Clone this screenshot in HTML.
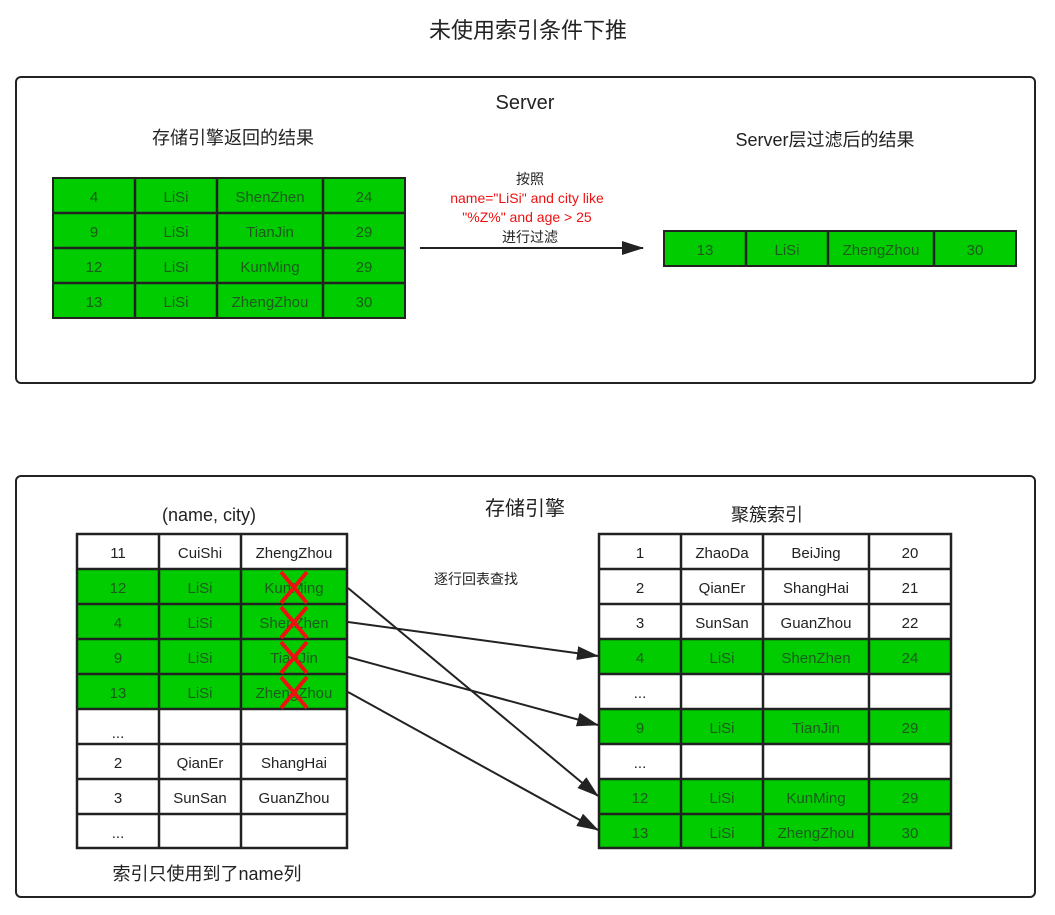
<!DOCTYPE html>
<html><head><meta charset="utf-8"><style>
html,body{margin:0;padding:0;background:#fff;}
svg{display:block;}
text{font-family:"Liberation Sans","Noto Sans CJK SC",sans-serif;}
</style></head><body>
<svg width="1055" height="915" viewBox="0 0 1055 915" xmlns="http://www.w3.org/2000/svg">
<defs>
<marker id="ah" markerWidth="12" markerHeight="10" refX="11" refY="5" orient="auto" markerUnits="userSpaceOnUse">
<path d="M0,0 L12,5 L0,10 Z" fill="#222"/>
</marker>
<marker id="ah2" markerWidth="22" markerHeight="14" refX="21" refY="7" orient="auto" markerUnits="userSpaceOnUse">
<path d="M0,0 L22,7 L0,14 Z" fill="#222"/>
</marker>
</defs>
<text x="528" y="38" font-size="22" text-anchor="middle" fill="#222">未使用索引条件下推</text>

<rect x="16" y="77" width="1019" height="306" rx="5" fill="none" stroke="#222" stroke-width="2"/>
<text x="525" y="109" font-size="20" text-anchor="middle" fill="#222">Server</text>
<text x="233" y="144" font-size="18" text-anchor="middle" fill="#222">存储引擎返回的结果</text>
<text x="825" y="146" font-size="18" text-anchor="middle" fill="#222">Server层过滤后的结果</text>

<g stroke="#222" stroke-width="2" fill="#00cc00">
<rect x="53" y="178" width="352" height="140"/>
<rect x="664" y="231" width="352" height="35"/>
</g>
<g stroke="#222" stroke-width="2.5">
<line x1="135" y1="178" x2="135" y2="318"/><line x1="217" y1="178" x2="217" y2="318"/><line x1="323" y1="178" x2="323" y2="318"/>
<line x1="53" y1="213" x2="405" y2="213"/><line x1="53" y1="248" x2="405" y2="248"/><line x1="53" y1="283" x2="405" y2="283"/>
<line x1="746" y1="231" x2="746" y2="266"/><line x1="828" y1="231" x2="828" y2="266"/><line x1="934" y1="231" x2="934" y2="266"/>
</g>
<g font-size="15" text-anchor="middle" fill="#1e5a1e">
<text x="94" y="202">4</text><text x="176" y="202">LiSi</text><text x="270" y="202">ShenZhen</text><text x="364" y="202">24</text>
<text x="94" y="237">9</text><text x="176" y="237">LiSi</text><text x="270" y="237">TianJin</text><text x="364" y="237">29</text>
<text x="94" y="272">12</text><text x="176" y="272">LiSi</text><text x="270" y="272">KunMing</text><text x="364" y="272">29</text>
<text x="94" y="307">13</text><text x="176" y="307">LiSi</text><text x="270" y="307">ZhengZhou</text><text x="364" y="307">30</text>
<text x="705" y="255">13</text><text x="787" y="255">LiSi</text><text x="881" y="255">ZhengZhou</text><text x="975" y="255">30</text>
</g>
<line x1="420" y1="248" x2="643" y2="248" stroke="#222" stroke-width="2" marker-end="url(#ah2)"/>
<g font-size="14" text-anchor="middle">
<text x="530" y="184" fill="#222">按照</text>
<text x="527" y="203" fill="#ee1111">name="LiSi" and city like</text>
<text x="527" y="222" fill="#ee1111">"%Z%" and age &gt; 25</text>
<text x="530" y="242" fill="#222">进行过滤</text>
</g>

<rect x="16" y="476" width="1019" height="421" rx="5" fill="none" stroke="#222" stroke-width="2"/>
<text x="525" y="515" font-size="20" text-anchor="middle" fill="#222">存储引擎</text>
<text x="209" y="521" font-size="18" text-anchor="middle" fill="#222">(name, city)</text>
<text x="767" y="521" font-size="18" text-anchor="middle" fill="#222">聚簇索引</text>
<text x="476" y="584" font-size="14" text-anchor="middle" fill="#222">逐行回表查找</text>
<text x="207" y="880" font-size="18" text-anchor="middle" fill="#222">索引只使用到了name列</text>

<!-- left table -->
<rect x="77" y="534" width="270" height="314" fill="#fff"/>
<rect x="77" y="569" width="270" height="140" fill="#00cc00"/>
<!-- right table -->
<rect x="599" y="534" width="352" height="314" fill="#fff"/>
<rect x="599" y="639" width="352" height="35" fill="#00cc00"/>
<rect x="599" y="709" width="352" height="35" fill="#00cc00"/>
<rect x="599" y="779" width="352" height="69" fill="#00cc00"/>
<g stroke="#222" stroke-width="2.5" fill="none">
<rect x="77" y="534" width="270" height="314"/>
<line x1="159" y1="534" x2="159" y2="848"/><line x1="241" y1="534" x2="241" y2="848"/>
<line x1="77" y1="569" x2="347" y2="569"/><line x1="77" y1="604" x2="347" y2="604"/><line x1="77" y1="639" x2="347" y2="639"/><line x1="77" y1="674" x2="347" y2="674"/><line x1="77" y1="709" x2="347" y2="709"/><line x1="77" y1="744" x2="347" y2="744"/><line x1="77" y1="779" x2="347" y2="779"/><line x1="77" y1="814" x2="347" y2="814"/>
<rect x="599" y="534" width="352" height="314"/>
<line x1="681" y1="534" x2="681" y2="848"/><line x1="763" y1="534" x2="763" y2="848"/><line x1="869" y1="534" x2="869" y2="848"/>
<line x1="599" y1="569" x2="951" y2="569"/><line x1="599" y1="604" x2="951" y2="604"/><line x1="599" y1="639" x2="951" y2="639"/><line x1="599" y1="674" x2="951" y2="674"/><line x1="599" y1="709" x2="951" y2="709"/><line x1="599" y1="744" x2="951" y2="744"/><line x1="599" y1="779" x2="951" y2="779"/><line x1="599" y1="814" x2="951" y2="814"/>
</g>
<g font-size="15" text-anchor="middle" fill="#222">
<text x="118" y="558">11</text><text x="200" y="558">CuiShi</text><text x="294" y="558">ZhengZhou</text>
<text x="118" y="738">...</text>
<text x="118" y="768">2</text><text x="200" y="768">QianEr</text><text x="294" y="768">ShangHai</text>
<text x="118" y="803">3</text><text x="200" y="803">SunSan</text><text x="294" y="803">GuanZhou</text>
<text x="118" y="838">...</text>
<text x="640" y="558">1</text><text x="722" y="558">ZhaoDa</text><text x="816" y="558">BeiJing</text><text x="910" y="558">20</text>
<text x="640" y="593">2</text><text x="722" y="593">QianEr</text><text x="816" y="593">ShangHai</text><text x="910" y="593">21</text>
<text x="640" y="628">3</text><text x="722" y="628">SunSan</text><text x="816" y="628">GuanZhou</text><text x="910" y="628">22</text>
<text x="640" y="698">...</text>
<text x="640" y="768">...</text>
</g>
<g font-size="15" text-anchor="middle" fill="#1e5a1e">
<text x="118" y="593">12</text><text x="200" y="593">LiSi</text><text x="294" y="593">KunMing</text>
<text x="118" y="628">4</text><text x="200" y="628">LiSi</text><text x="294" y="628">ShenZhen</text>
<text x="118" y="663">9</text><text x="200" y="663">LiSi</text><text x="294" y="663">TianJin</text>
<text x="118" y="698">13</text><text x="200" y="698">LiSi</text><text x="294" y="698">ZhengZhou</text>
<text x="640" y="663">4</text><text x="722" y="663">LiSi</text><text x="816" y="663">ShenZhen</text><text x="910" y="663">24</text>
<text x="640" y="733">9</text><text x="722" y="733">LiSi</text><text x="816" y="733">TianJin</text><text x="910" y="733">29</text>
<text x="640" y="803">12</text><text x="722" y="803">LiSi</text><text x="816" y="803">KunMing</text><text x="910" y="803">29</text>
<text x="640" y="838">13</text><text x="722" y="838">LiSi</text><text x="816" y="838">ZhengZhou</text><text x="910" y="838">30</text>
</g>
<g stroke="#ee1111" stroke-width="4">
<line x1="281" y1="572" x2="307" y2="603"/><line x1="307" y1="572" x2="281" y2="603"/>
<line x1="281" y1="607" x2="307" y2="638"/><line x1="307" y1="607" x2="281" y2="638"/>
<line x1="281" y1="642" x2="307" y2="673"/><line x1="307" y1="642" x2="281" y2="673"/>
<line x1="281" y1="677" x2="307" y2="708"/><line x1="307" y1="677" x2="281" y2="708"/>
</g>
<g stroke="#222" stroke-width="2" marker-end="url(#ah2)">
<line x1="348" y1="588" x2="598" y2="796"/>
<line x1="348" y1="622" x2="598" y2="656"/>
<line x1="348" y1="657" x2="598" y2="725"/>
<line x1="348" y1="692" x2="598" y2="830"/>
</g>
</svg>
</body></html>
